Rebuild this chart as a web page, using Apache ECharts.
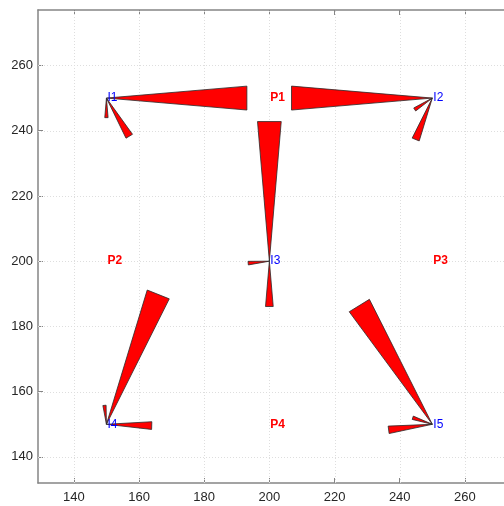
<!DOCTYPE html>
<html>
<head>
<meta charset="utf-8">
<script src="https://cdn.jsdelivr.net/npm/echarts@6/dist/echarts.min.js"></script>
<style>
  html, body { margin: 0; padding: 0; background: #fff; }
  #chart { width: 504px; height: 506px; }
</style>
</head>
<body>
<div id="chart"></div>
<script>
// Junction nodes
const nodeNames = ['I1', 'I2', 'I3', 'I4', 'I5'];
const nodeX = [150, 250, 200, 150, 250];
const nodeY = [250, 250, 200, 150, 150];

// Region labels
const regionNames = ['P1', 'P2', 'P3', 'P4'];
const regionX = [200, 150, 250, 200];
const regionY = [250, 200, 200, 150];

// Wedge vectors: source node index and (dx, dy) from the node to the wedge base
const wedgeNode = [0, 0, 0, 1, 1, 1, 2, 2, 2, 3, 3, 3, 4, 4, 4];
const wedgeDx = [43.1, 0.0, 7.0, -43.2, -5.4, -5.1, 0.0, 0.0, -6.5, 15.9, -0.6, 13.9, -22.4, -6.0, -13.4];
const wedgeDy = [0.0, -6.0, -11.7, 0.0, -3.5, -12.7, 42.8, -13.9, -0.6, 39.8, 5.8, -0.4, 36.4, 2.0, -1.7];

// Axis ranges and ticks
const xMin = 129, xMax = 272;
const yMin = 132, yMax = 277;
const xTicks = [140, 160, 180, 200, 220, 240, 260];
const yTicks = [140, 160, 180, 200, 220, 240, 260];

const WIDTH_RATIO = 0.085; // half-width of the wedge base relative to its length

const wedgeData = wedgeNode.map((n, i) => [nodeX[n], nodeY[n], wedgeDx[i], wedgeDy[i]]);
const nodeData = nodeNames.map((s, i) => [nodeX[i], nodeY[i], s]);
const regionData = regionNames.map((s, i) => [regionX[i], regionY[i], s]);

const axisColor = '#858585';
const font = 'Liberation Sans, Arial, sans-serif';

const chart = echarts.init(document.getElementById('chart'), null, { renderer: 'canvas' });

function textSeries(data, color, weight) {
  return {
    type: 'custom',
    coordinateSystem: 'cartesian2d',
    data: data,
    z: 10,
    renderItem: function (params, api) {
      const p = api.coord([api.value(0), api.value(1)]);
      return {
        type: 'text',
        x: p[0] + 1,
        y: p[1],
        style: {
          text: data[params.dataIndex][2],
          fill: color,
          font: weight + ' 12px ' + font,
          textAlign: 'left',
          textVerticalAlign: 'middle'
        }
      };
    }
  };
}

const option = {
  animation: false,
  backgroundColor: '#fff',
  grid: { left: 38, top: 10, width: 467, height: 473, containLabel: false },
  xAxis: [
    {
      type: 'value', min: xMin, max: xMax, position: 'bottom',
      axisLine: { show: true, onZero: false, lineStyle: { color: axisColor, width: 1.5 } },
      axisTick: { show: true, inside: true, length: 5, lineStyle: { color: axisColor },
        customValues: xTicks },
      axisLabel: { color: '#262626', fontSize: 13, fontFamily: font, margin: 8,
        customValues: xTicks },
      splitLine: { show: false }
    },
    {
      type: 'value', min: xMin, max: xMax, position: 'top',
      axisLine: { show: true, onZero: false, lineStyle: { color: axisColor, width: 1.5 } },
      axisTick: { show: true, inside: true, length: 5, lineStyle: { color: axisColor },
        customValues: xTicks },
      axisLabel: { show: false },
      splitLine: { show: false }
    }
  ],
  yAxis: [
    {
      type: 'value', min: yMin, max: yMax, position: 'left',
      axisLine: { show: true, onZero: false, lineStyle: { color: axisColor, width: 1.5 } },
      axisTick: { show: true, inside: true, length: 5, lineStyle: { color: axisColor },
        customValues: yTicks },
      axisLabel: { color: '#262626', fontSize: 13, fontFamily: font, margin: 5,
        customValues: yTicks },
      splitLine: { show: false }
    }
  ],
  series: [
    // dotted grid lines at the tick positions
    {
      type: 'custom',
      coordinateSystem: 'cartesian2d',
      data: [[0]],
      silent: true,
      z: 1,
      renderItem: function (params, api) {
        const children = [];
        const style = { stroke: '#dedede', lineWidth: 1, lineDash: [1, 2] };
        xTicks.forEach(function (t) {
          const a = api.coord([t, yMin]);
          const b = api.coord([t, yMax]);
          children.push({ type: 'line', shape: { x1: Math.round(a[0]) + 0.5, y1: a[1], x2: Math.round(b[0]) + 0.5, y2: b[1] }, style: style });
        });
        yTicks.forEach(function (t) {
          const a = api.coord([xMin, t]);
          const b = api.coord([xMax, t]);
          children.push({ type: 'line', shape: { x1: a[0], y1: Math.round(a[1]) + 0.5, x2: b[0], y2: Math.round(b[1]) + 0.5 }, style: style });
        });
        return { type: 'group', children: children };
      }
    },
    // wedges: apex at the node, base perpendicular to the direction
    {
      type: 'custom',
      coordinateSystem: 'cartesian2d',
      data: wedgeData,
      z: 5,
      renderItem: function (params, api) {
        const x0 = api.value(0), y0 = api.value(1);
        const dx = api.value(2), dy = api.value(3);
        const len = Math.sqrt(dx * dx + dy * dy);
        const h = len * WIDTH_RATIO;
        const nx = -dy / len * h, ny = dx / len * h;
        const pts = [
          api.coord([x0, y0]),
          api.coord([x0 + dx + nx, y0 + dy + ny]),
          api.coord([x0 + dx - nx, y0 + dy - ny])
        ];
        return {
          type: 'polygon',
          shape: { points: pts },
          style: { fill: '#ff0000', stroke: '#2a2a2a', lineWidth: 0.8, lineJoin: 'miter' }
        };
      }
    },
    textSeries(regionData, '#ff0000', 'bold'),
    textSeries(nodeData, '#0000ff', 'normal')
  ]
};

chart.setOption(option);
</script>
</body>
</html>
